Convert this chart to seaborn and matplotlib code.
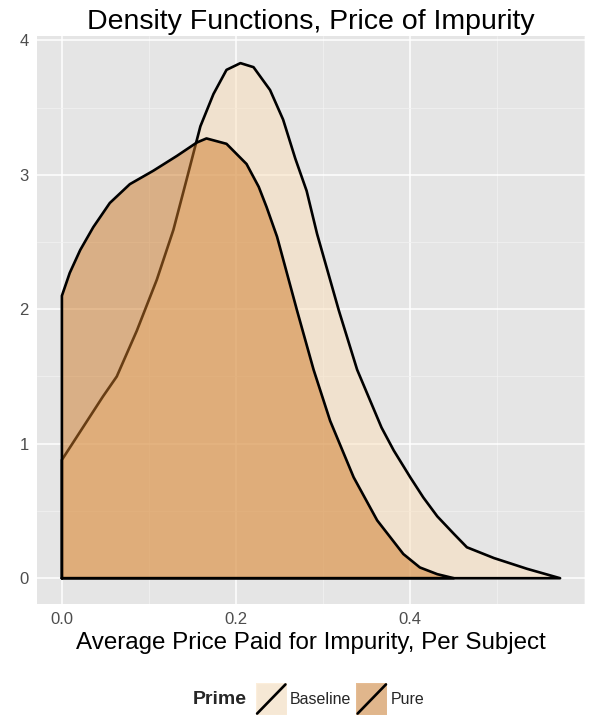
import numpy as np
import pandas as pd
import matplotlib
matplotlib.use('Agg')
import matplotlib.pyplot as plt
import matplotlib.ticker as ticker
from matplotlib.patches import Patch, Rectangle
from matplotlib.lines import Line2D
from matplotlib.legend_handler import HandlerBase
import seaborn as sns

# density curves (price paid vs density)
baseline_price = [0.000, 0.017, 0.032, 0.047, 0.063, 0.086, 0.109, 0.128, 0.143, 0.159,
                  0.174, 0.189, 0.205, 0.220, 0.239, 0.254, 0.268, 0.281, 0.293, 0.318,
                  0.339, 0.367, 0.381, 0.400, 0.415, 0.431, 0.450, 0.465, 0.496, 0.534,
                  0.572]
baseline_density = [0.88, 1.05, 1.20, 1.35, 1.50, 1.84, 2.22, 2.59, 2.96, 3.36,
                    3.60, 3.78, 3.83, 3.80, 3.63, 3.41, 3.12, 2.88, 2.56, 1.99,
                    1.55, 1.12, 0.95, 0.75, 0.60, 0.46, 0.33, 0.23, 0.15, 0.07,
                    0.00]

pure_price = [0.000, 0.009, 0.021, 0.036, 0.055, 0.078, 0.105, 0.132, 0.155, 0.166,
              0.189, 0.212, 0.226, 0.235, 0.247, 0.270, 0.289, 0.308, 0.335, 0.362,
              0.392, 0.411, 0.431, 0.450]
pure_density = [2.10, 2.27, 2.44, 2.61, 2.79, 2.93, 3.03, 3.14, 3.24, 3.27,
                3.23, 3.08, 2.91, 2.76, 2.54, 1.99, 1.55, 1.17, 0.75, 0.43,
                0.18, 0.08, 0.03, 0.00]

groups = ['Baseline', 'Pure']
fill_colors = ['#FBDFB9', '#CF7B28']
x_ticks = [0.0, 0.2, 0.4]
x_tick_labels = ['0.0', '0.2', '0.4']
y_ticks = [0, 1, 2, 3, 4]

sns.set_theme(style='darkgrid', rc={
    'axes.facecolor': '#E5E5E5',
    'grid.color': 'white',
    'axes.edgecolor': 'none',
})
plt.rcParams['font.family'] = ['Liberation Sans', 'DejaVu Sans']


class SlashHandler(HandlerBase):
    # ggplot style key: filled square with a diagonal stroke
    def create_artists(self, legend, orig_handle, xdescent, ydescent,
                       width, height, fontsize, trans):
        bg = Rectangle((-xdescent, -ydescent), width, height, facecolor='#F2F2F2',
                       edgecolor='white', lw=1, transform=trans)
        r = Rectangle((-xdescent, -ydescent), width, height,
                      facecolor=orig_handle.get_facecolor(), edgecolor='none',
                      transform=trans)
        l = Line2D([-xdescent + 1, -xdescent + width - 1],
                   [-ydescent + 1, -ydescent + height - 1],
                   color='black', lw=1.9, transform=trans)
        return [bg, r, l]


fig = plt.figure(figsize=(5.89, 7.15), dpi=100)
ax = fig.add_axes([0.0628, 0.1552, 0.9304, 0.7945])

curves = [(baseline_price, baseline_density), (pure_price, pure_density)]
z = 2
for name, col, (xs, ys) in zip(groups, fill_colors, curves):
    ax.fill_between(xs, ys, 0, color=col, alpha=0.5, linewidth=0, zorder=z)
    # closed outline like geom_density
    outline = pd.DataFrame({
        'price': [xs[0]] + list(xs) + [xs[-1], xs[0]],
        'density': [0] + list(ys) + [0, 0],
    })
    sns.lineplot(data=outline, x='price', y='density', sort=False, estimator=None,
                 color='black', linewidth=1.9, solid_joinstyle='round',
                 zorder=z + 0.1, ax=ax)
    z += 0.2

ax.set_xlim(-0.0286, 0.6006)
ax.set_ylim(-0.192, 4.032)
ax.set_xticks(x_ticks)
ax.set_xticklabels(x_tick_labels)
ax.set_yticks(y_ticks)
ax.xaxis.set_minor_locator(ticker.MultipleLocator(0.1))
ax.yaxis.set_minor_locator(ticker.MultipleLocator(0.5))
ax.grid(which='major', color='white', linewidth=1.1)
ax.grid(which='minor', color='#F2F2F2', linewidth=0.55)
ax.tick_params(which='major', length=4, width=0.8, color='#4D4D4D',
               labelcolor='#4D4D4D', labelsize=12, pad=2)
ax.tick_params(which='minor', length=0)
for s in ax.spines.values():
    s.set_visible(False)

ax.set_ylabel('')
ax.set_xlabel('Average Price Paid for Impurity, Per Subject', fontsize=17.4,
              color='black', labelpad=3)
ax.set_title('Density Functions, Price of Impurity', fontsize=20.5, color='black', pad=5)

fig.text(193 / 589, 1 - 700 / 715, 'Prime', fontsize=14, fontweight='bold',
         ha='left', va='center')
fig.legend(handles=[Patch(facecolor=(0.984, 0.875, 0.725, 0.5)),
                    Patch(facecolor=(0.812, 0.482, 0.157, 0.5))],
           labels=groups, ncol=2, loc='center', bbox_to_anchor=(340 / 589, 1 - 699 / 715),
           frameon=False, fontsize=11.5, handlelength=1.95, handleheight=2.7,
           handletextpad=0.2, columnspacing=0.3, borderpad=0,
           handler_map={Patch: SlashHandler()})

plt.savefig('out.png', dpi=100)
